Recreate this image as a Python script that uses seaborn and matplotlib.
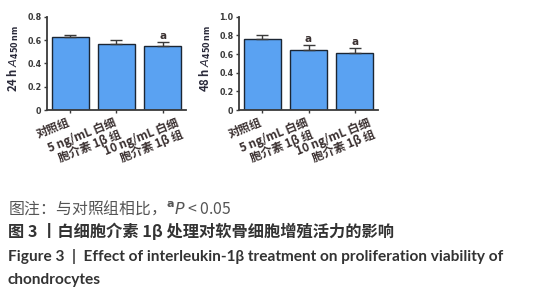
import matplotlib
matplotlib.use("Agg")
import matplotlib.pyplot as plt
import matplotlib.transforms as mtrans
import seaborn as sns
import pandas as pd
import numpy as np

sns.set_theme(style="white")
plt.rcParams['font.family'] = ['Noto Sans CJK SC', 'DejaVu Sans']
plt.rcParams['mathtext.fontset'] = 'dejavusans'

categories = ["对照组", "5 ng/mL 白细\n胞介素 1β 组", "10 ng/mL 白细\n胞介素 1β 组"]
vals_24h = [0.625, 0.565, 0.550]
err_24h = [0.020, 0.035, 0.030]
sig_24h = ["", "", "a"]
vals_48h = [0.760, 0.645, 0.615]
err_48h = [0.040, 0.050, 0.045]
sig_48h = ["", "a", "a"]
yticks_24h = [0, 0.2, 0.4, 0.6, 0.8]
ytick_labels_24h = ["0", "0.2", "0.4", "0.6", "0.8"]
yticks_48h = [0, 0.2, 0.4, 0.6, 0.8, 1.0]
ytick_labels_48h = ["0", "0.2", "0.4", "0.6", "0.8", "1.0"]

BAR = "#5aa2f2"
EDGE = "#1c2633"
AX = "#3a3a3a"
TXT = "#3a3030"
label_shift_px = [-3, -3, 13]

fig = plt.figure(figsize=(5.44, 3.0), dpi=100)
ax1 = fig.add_axes([47/544, 1-110/300, 139/544, 93.3/300])
ax2 = fig.add_axes([239/544, 1-110/300, 139/544, 93.3/300])

def panel(ax, vals, errs, sigs, yt, ytl, ymax, ylabel):
    df = pd.DataFrame({"g": categories, "v": vals})
    sns.barplot(data=df, x="g", y="v", ax=ax, color=BAR, saturation=1,
                edgecolor=EDGE, linewidth=1.0, width=0.8, errorbar=None)
    xs = np.arange(len(vals))
    ax.errorbar(xs, vals, yerr=[np.zeros(len(errs)), errs], fmt="none",
                ecolor=AX, elinewidth=1.0, capsize=4.5, capthick=1.0)
    for x, v, e, s in zip(xs, vals, errs, sigs):
        if s:
            ax.text(x, v + e + ymax*0.015, s, ha="center", va="bottom",
                    fontsize=7.5, fontweight="bold", color=TXT, family="DejaVu Sans")
    ax.set_xlim(-0.5, 2.5)
    ax.set_ylim(0, ymax)
    ax.set_yticks(yt)
    ax.set_yticklabels(ytl, fontsize=5.8, fontweight="bold", color=AX, family="DejaVu Sans")
    ax.set_xticks(xs)
    ax.set_xticklabels([])
    base = ax.get_xaxis_transform()
    for x, lab, dx in zip(xs, categories, label_shift_px):
        tr = base + mtrans.ScaledTranslation(dx/100, -6/100, fig.dpi_scale_trans)
        ax.text(x, 0, lab, transform=tr, rotation=22, ha="right", va="top",
                rotation_mode="anchor", fontsize=8.4, fontweight="bold",
                color=TXT, linespacing=1.0, clip_on=False)
    ax.set_xlabel("")
    ax.set_ylabel(ylabel, fontsize=8.2, fontweight="bold", color="#2a2a3a")
    ax.yaxis.set_label_coords(-0.19, 0.55)
    for s in ["top", "right"]:
        ax.spines[s].set_visible(False)
    for s in ["left", "bottom"]:
        ax.spines[s].set_color(AX)
        ax.spines[s].set_linewidth(1.3)
    ax.tick_params(axis="both", which="both", direction="out", length=2.5, width=1,
                   color=AX, pad=1.5, left=True, bottom=True)
    ax.set_facecolor("white")

panel(ax1, vals_24h, err_24h, sig_24h, yticks_24h, ytick_labels_24h, 0.8,
      r"24 h $\mathit{A}_{\mathbf{450\,nm}}$")
panel(ax2, vals_48h, err_48h, sig_48h, yticks_48h, ytick_labels_48h, 1.0,
      r"48 h $\mathit{A}_{\mathbf{450\,nm}}$")

fig.text(8/544, 1-208/300, "图注：与对照组相比，$^{\\mathbf{a}}$$\\mathit{P}$ < 0.05",
         fontsize=11.4, color="#555555", va="center", ha="left")
fig.text(8/544, 1-231/300, "图 3 丨白细胞介素 1β 处理对软骨细胞增殖活力的影响",
         fontsize=11.7, color="#333333", fontweight="bold", va="center", ha="left")
fig.text(8/544, 1-256/300, "Figure 3  |  Effect of interleukin-1β treatment on proliferation viability of",
         fontsize=11.1, color="#333333", fontweight="bold", va="center", ha="left",
         family=["Lato", "DejaVu Sans"])
fig.text(8/544, 1-280/300, "chondrocytes",
         fontsize=11.1, color="#333333", fontweight="bold", va="center", ha="left",
         family=["Lato", "DejaVu Sans"])

fig.savefig("out.png", dpi=100, facecolor="white")
